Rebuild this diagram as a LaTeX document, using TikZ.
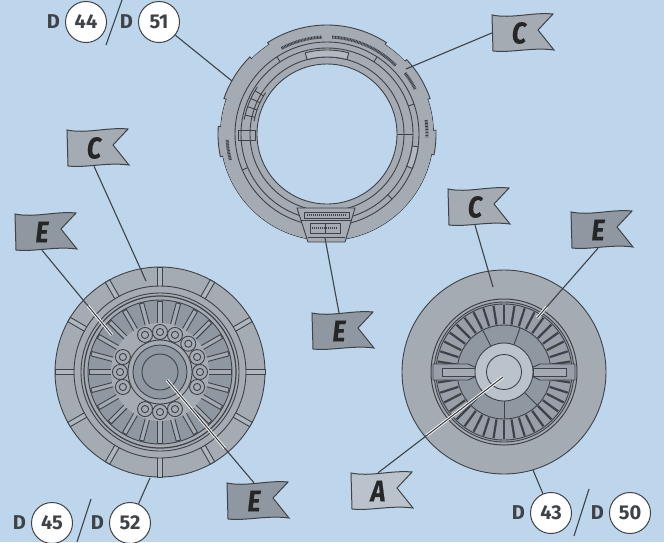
\documentclass[tikz,border=0pt]{standalone}
\usepackage{fontspec}
\setmainfont{Fira Sans}
\newfontfamily\flagfont[FakeStretch=0.84, FakeBold=0.5]{Fira Sans}
\definecolor{skyback}{HTML}{BDD6EB}
\definecolor{inkline}{HTML}{3F4347}
\definecolor{greymid}{HTML}{A5ABB2}
\definecolor{greydark}{HTML}{8F97A1}
\definecolor{greylight}{HTML}{BAC3CB}
\tikzset{leader/.style={inkline, line width=1.1pt},
  halo/.style={white, line width=2.8pt},
  part/.style={draw=inkline, line width=0.9pt},
  hatch/.style={inkline, line width=3pt, dash pattern=on 0.9pt off 0.6pt},
  flagtext/.style={minimum width=54pt, minimum height=36pt, inner sep=0pt, font=\flagfont\fontsize{30}{30}\selectfont\bfseries\itshape, text=black!85},
  numtag/.style={circle, draw=inkline, line width=1pt, fill=white, minimum size=41pt, inner sep=0pt, font=\fontsize{20}{20}\selectfont\bfseries, text=inkline},
  dtag/.style={inner sep=0pt, font=\fontsize{20}{20}\selectfont\bfseries, text=inkline}}
\newcommand{\fflag}[4]{\begin{scope}[shift={(#2)}]
\draw[part, line width=1pt, fill=#3] (0,0) .. controls (20,4) and (40,-3) .. (61,-1) -- (46,15) -- (62,35) .. controls (40,32) and (20,38) .. (1,36) -- cycle;
\node[flagtext] (#1) at (27,18) {#4};
\end{scope}}
\newcommand{\ftag}[2]{\node[numtag] (n#1) at (#2) {#1}; \node[dtag, left=5pt] (d#1) at (n#1.west) {D};}
\newcommand{\farc}[4]{\draw[#1] plot[domain=#3:#4, samples=30] (\x:#2);}
\newcommand{\fband}[5]{\filldraw[#1] plot[domain=#4:#5, samples=30] (\x:#2) -- plot[domain=#5:#4, samples=30] (\x:#3) -- cycle;}
\newcommand{\fhalo}[4]{\begin{scope}\clip (#1) circle (#2); \draw[halo] (#3) -- (#4); \end{scope}}
\begin{document}
\begin{tikzpicture}[x=1pt, y=-1pt]
\fill[skyback] (0,0) rectangle (664,542);
\useasboundingbox (0,0) rectangle (664,542);
\coordinate (ring) at (327,134);
\coordinate (lefthub) at (160,372);
\coordinate (righthub) at (504,372);
\begin{scope}[shift={(ring)}]
\filldraw[part, fill=greymid] (0,0) circle (106.5);
\foreach \a/\b in {-123/-57, -43/-19, -2/11, 168/184, -161/-135}
  \fband{part, fill=greymid}{109}{105}{\a}{\b}
\fill[greymid] (0,0) circle (106);
\foreach \r in {92, 86, 77} \draw[part] (0,0) circle (\r);
\filldraw[part, fill=skyback] (0,0) circle (70);
\farc{hatch}{97}{-118}{-93} \farc{hatch}{97}{-87}{-45} \farc{hatch}{99}{-38}{-27}
\farc{hatch}{100}{-8}{2} \farc{hatch}{100}{165}{177}
\fband{part, fill=greylight!60!greymid}{84}{77}{-105}{-75}
\fband{part, fill=greylight!60!greymid}{92}{86}{8}{22}
\foreach \a in {-123, -57, -19, 45, 157} \draw[part] (\a:86) -- (\a:92);
\draw[part] (0:70) -- (0:86);
\foreach \a in {193, 199, 205, 211} \draw[part] (\a:74) -- (\a:84);
\farc{part}{74}{190}{214} \farc{part}{84}{190}{214}
\draw[part] (-89,-4) rectangle (-72,6);
\filldraw[part, fill=greymid] (-30,74) -- (28,74) -- (18,108) -- (-19,108) -- cycle;
\draw[part] (-23,78) rectangle (22,84); \draw[part] (-26,86) -- (24,86);
\draw[part] (-17,89) rectangle (13,99); \draw[part] (-2,89) -- (-2,99); \draw[part] (-19,103) -- (18,103);
\draw[inkline, line width=1.6pt, dash pattern=on 1pt off 1pt] (-20,81) -- (19,81);
\draw[inkline, line width=1.6pt, dash pattern=on 1pt off 1pt] (-15,94) -- (11,94);
\end{scope}
\begin{scope}[shift={(lefthub)}]
\filldraw[part, fill=greymid] (0,0) circle (105);
\foreach \a in {0, 30, ..., 330} \filldraw[part, fill=greylight!50!greymid, rotate=\a] (85,-2.5) rectangle (105,2.5);
\filldraw[part, fill=greymid] (0,0) circle (86);
\draw[part] (0,0) circle (79);
\draw[part, line width=1.2pt] (0,0) circle (76);
\filldraw[part, fill=greydark] (0,0) circle (72);
\foreach \a in {0, 15, ..., 345} \filldraw[part, fill=greymid, rotate=\a] (44,-2.2) rectangle (71,2.2);
\filldraw[draw=none, fill=greymid] (0,0) circle (49);
\foreach \a in {-90, -112, -68, -45, 0, -22, 22, 180, 158, 202, 90, 68, 112} {
  \filldraw[part, fill=greymid] (\a:40) circle (7.5);
  \draw[part] (\a:40) circle (3.6);}
\filldraw[part, fill=greymid] (0,0) circle (32);
\filldraw[part, fill=greydark] (0,0) circle (27);
\draw[part] (0,0) circle (18);
\end{scope}
\begin{scope}[shift={(righthub)}]
\filldraw[part, fill=greymid] (0,0) circle (102);
\filldraw[part, line width=1pt, fill=greymid] (0,0) circle (73);
\filldraw[part, fill=greydark!60!greymid] (0,0) circle (70);
\foreach \a in {0, 9, ..., 351} \fill[inkline, rotate=\a] (48,-1.1) rectangle (67,1.1);
\draw[part] (0,0) circle (68);
\filldraw[part, fill=greydark] (0,0) circle (47);
\foreach \a in {-117, -70, 90, 45, 135} \draw[part] (\a:28) -- (\a:47);
\foreach \s in {1, -1} {
  \filldraw[part, fill=greydark!60!greymid, xscale=\s] (27,-4) -- (36,-8) -- (71,-8) -- (71,8) -- (36,8) -- (27,4) -- cycle;
  \draw[part, fill=greymid, xscale=\s] (29,-4) rectangle (62,4);}
\filldraw[part, fill=greylight] (0,0) circle (29);
\draw[part] (0,0) circle (17.5);
\end{scope}
\fflag{flagtc}{492,15}{greymid}{C}
\fflag{flagme}{312,313}{greydark}{E}
\fflag{flaglc}{67,130}{greymid}{C}
\fflag{flagle}{15,214}{greydark}{E}
\fflag{flagbe}{227,483}{greydark}{E}
\fflag{flagrc}{448,189}{greymid}{C}
\fflag{flagre}{571,212}{greydark}{E}
\fflag{flagra}{351,473}{greylight}{A}
\ftag{44}{86,22}
\ftag{51}{159,22}
\ftag{45}{52,523}
\ftag{52}{130,523}
\ftag{43}{551,513}
\ftag{50}{630,513}
\coordinate (slasha) at (122,0); \coordinate (slashb) at (106,45);
\coordinate (slashc) at (91,499); \coordinate (slashd) at (77,542);
\coordinate (slashe) at (589,489); \coordinate (slashf) at (574,536);
\draw[leader] (slasha) -- (slashb);
\draw[leader] (slashc) -- (slashd);
\draw[leader] (slashe) -- (slashf);
\coordinate (ringd) at (232,81);
\coordinate (ringc) at (406,69);
\coordinate (ringe) at (325,238);
\coordinate (leftc) at (146,281);
\coordinate (lefte) at (112,335);
\coordinate (leftb) at (167,380);
\coordinate (leftd) at (150,478);
\coordinate (rightc) at (493,287);
\coordinate (righte) at (537,318);
\coordinate (righta) at (503,377);
\coordinate (rightd) at (533,470);
\fhalo{lefthub}{98}{flagle.south}{lefte}
\fhalo{lefthub}{100}{flagbe.north}{leftb}
\fhalo{righthub}{78}{flagre.south}{righte}
\fhalo{righthub}{100}{flagra.north}{righta}
\draw[leader] (n51) -- (ringd);
\draw[leader] (flagtc.west) -- (ringc);
\draw[leader] (flagme.north) -- (ringe);
\draw[leader] (flaglc.south) -- (leftc);
\draw[leader] (flagle.south) -- (lefte);
\draw[leader] (flagbe.north) -- (leftb);
\draw[leader] (n52) -- (leftd);
\draw[leader] (flagrc.south) -- (rightc);
\draw[leader] (flagre.south) -- (righte);
\draw[leader] (flagra.north) -- (righta);
\draw[leader] (n43) -- (rightd);
\end{tikzpicture}
\end{document}
